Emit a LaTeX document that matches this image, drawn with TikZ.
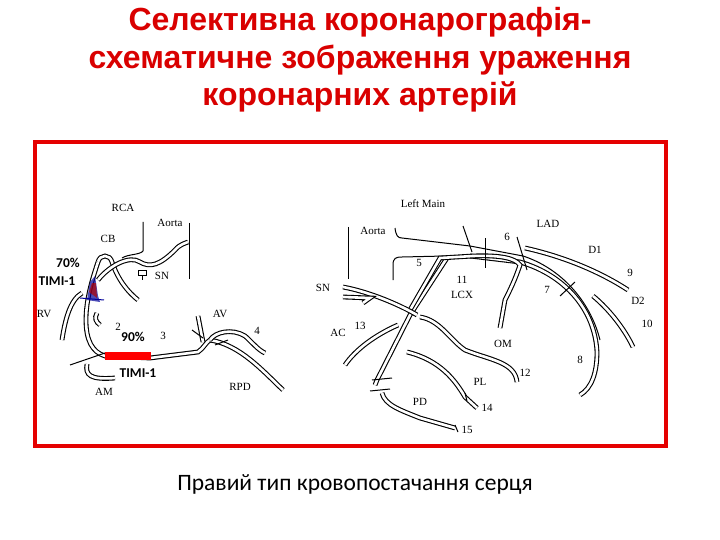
\documentclass[tikz,border=0pt]{standalone}
\usepackage{fontspec}
\setmainfont{Liberation Serif}
\newfontfamily\titlefont{Liberation Sans}
\newfontfamily\capfont{Carlito}
\begin{document}
\begin{tikzpicture}[x=1pt,y=-1pt,
  ves/.style={draw=black,double=white,double distance=2.6pt,line width=1.1pt},
  thin/.style={draw=black,line width=1pt},
  lbl/.style={font=\fontsize{11}{11}\selectfont,inner sep=0pt},
  sten/.style={font=\capfont\bfseries\fontsize{13.5}{13.5}\selectfont,inner sep=0pt}]
\useasboundingbox (0,0) rectangle (720,540);
\node[font=\titlefont\bfseries\fontsize{32}{37.5}\selectfont,text=red!85!black,align=center] (title) at (360,60) {Селективна коронарографія-\\схематичне зображення ураження\\коронарних артерій};
\draw[red!90!black,line width=3.5pt] (35,142) rectangle (666,446);
\node[font=\capfont\fontsize{23.5}{23.5}\selectfont] (cap) at (355,484) {Правий тип кровопостачання серця};
% ---------- left diagram ----------
\draw[thin] (143,222) -- (143,251) .. controls (140,255) and (128,254) .. (122,258);
\draw[thin] (189,223) -- (189,279);
\draw[ves] (98,262) .. controls (100,254) and (110,254) .. (112,262) .. controls (118,280) and (128,292) .. (138,300);
\draw[ves] (98,262) .. controls (92,280) and (86,300) .. (86,320) .. controls (86,340) and (92,352) .. (105,356) -- (150,358) -- (198,352) .. controls (204,348) and (206,342) .. (210,340);
\draw[ves] (210,340) .. controls (240,345) and (262,370) .. (283,390);
\draw[ves] (210,340) .. controls (215,332) and (232,328) .. (245,336) .. controls (252,342) and (258,350) .. (265,353);
\draw[ves] (203,342) -- (198,316);
\draw[ves] (98,280) .. controls (110,265) and (130,255) .. (140,262) .. controls (150,268) and (160,265) .. (175,250) .. controls (180,244) and (186,243) .. (188,242);
\draw[thin] (138,270) rectangle (146,275); \draw[thin] (142,275) -- (142,280);
\draw[ves] (82,293) .. controls (70,300) and (65,320) .. (62,340);
\draw[ves] (97,313) .. controls (94,318) and (96,322) .. (100,325);
\draw[ves] (87,364) .. controls (85,375) and (90,380) .. (115,378);
\draw[thin] (70,365) -- (105,353);
\draw[thin] (192,330) -- (203,338);
\draw[thin] (215,345) -- (228,340);
\fill[blue!60!black,opacity=0.7] (87,300) -- (90,282) -- (95,276) -- (98,296) -- (100,302) -- cycle;
\fill[red!70!black,opacity=0.7] (89,292) -- (92,283) -- (96,283) -- (97,298) -- cycle;
\draw[thin,blue!60!black] (80,298) -- (104,300);
\fill[red] (105,352) rectangle (151,360);
\node[lbl] (rca) at (123,208) {RCA};
\node[lbl] (aoL) at (170,223) {Aorta};
\node[lbl] (cb) at (108,239) {CB};
\node[lbl] (snL) at (162,276) {SN};
\node[lbl] (rv) at (44,314) {RV};
\node[lbl] (av) at (220,314) {AV};
\node[lbl] (n4) at (257,331) {4};
\node[lbl] (n2) at (118,327) {2};
\node[lbl] (n3) at (163,336) {3};
\node[lbl] (am) at (104,392) {AM};
\node[lbl] (rpd) at (240,387) {RPD};
\node[sten] (s70) at (68,263) {70\%};
\node[sten] (t1) at (57,281) {TIMI-1};
\node[sten] (s90) at (133,337) {90\%};
\node[sten] (t2) at (138,373) {TIMI-1};
% ---------- right diagram ----------
\draw[thin] (348,227) -- (348,279);
\draw[thin] (395,228) .. controls (396,236) and (398,238) .. (402,238) -- (470,246) -- (523,256) .. controls (560,268) and (590,300) .. (600,340);
\draw[ves] (470,256) -- (520,262) .. controls (565,275) and (595,310) .. (597,352) .. controls (597,372) and (592,388) .. (580,395);
\draw[ves] (525,248) .. controls (570,258) and (605,275) .. (628,290);
\draw[ves] (593,296) .. controls (610,310) and (625,330) .. (633,347);
\draw[thin] (393,280) -- (393,265) .. controls (393,258) and (396,257) .. (402,257) -- (445,256);
\draw[ves] (447,258) -- (410,315) -- (377,380) -- (375,385);
\draw[ves] (382,393) .. controls (385,405) and (400,410) .. (420,418) -- (455,428);
\draw[ves] (410,310) -- (440,258) -- (473,256) .. controls (500,255) and (515,258) .. (520,265) .. controls (515,280) and (510,290) .. (505,300) -- (500,328);
\draw[ves] (420,317) .. controls (440,320) and (450,340) .. (465,350) .. controls (490,360) and (515,362) .. (517,382);
\draw[ves] (343,287) .. controls (370,292) and (400,305) .. (417,315);
\draw[ves] (343,297) -- (370,298) -- (363,303);
\draw[ves] (398,325) .. controls (375,335) and (355,350) .. (345,365);
\draw[ves] (407,352) .. controls (440,360) and (455,380) .. (465,397) -- (477,408);
\draw[thin] (372,380) -- (392,378); \draw[thin] (370,391) -- (390,389);
\draw[thin] (463,226) -- (472,252); \draw[thin] (485,238) -- (485,268);
\draw[thin] (517,237) -- (527,270); \draw[thin] (560,296) -- (575,282);
\draw[thin] (465,393) -- (467,401); \draw[thin] (455,425) -- (458,432);
\node[lbl] (lm) at (423,204) {Left Main};
\node[lbl] (aoR) at (373,231) {Aorta};
\node[lbl] (lad) at (548,224) {LAD};
\node[lbl] (n6) at (507,237) {6};
\node[lbl] (d1) at (595,250) {D1};
\node[lbl] (n9) at (630,273) {9};
\node[lbl] (d2) at (638,301) {D2};
\node[lbl] (n10) at (647,324) {10};
\node[lbl] (n7) at (547,290) {7};
\node[lbl] (n8) at (580,360) {8};
\node[lbl] (n5) at (419,263) {5};
\node[lbl] (n11) at (462,280) {11};
\node[lbl] (lcx) at (462,295) {LCX};
\node[lbl] (snR) at (323,288) {SN};
\node[lbl] (ac) at (338,333) {AC};
\node[lbl] (n13) at (360,326) {13};
\node[lbl] (om) at (503,344) {OM};
\node[lbl] (n12) at (525,373) {12};
\node[lbl] (pl) at (480,382) {PL};
\node[lbl] (n14) at (487,408) {14};
\node[lbl] (pd) at (420,402) {PD};
\node[lbl] (n15) at (467,430) {15};
\end{tikzpicture}
\end{document}
